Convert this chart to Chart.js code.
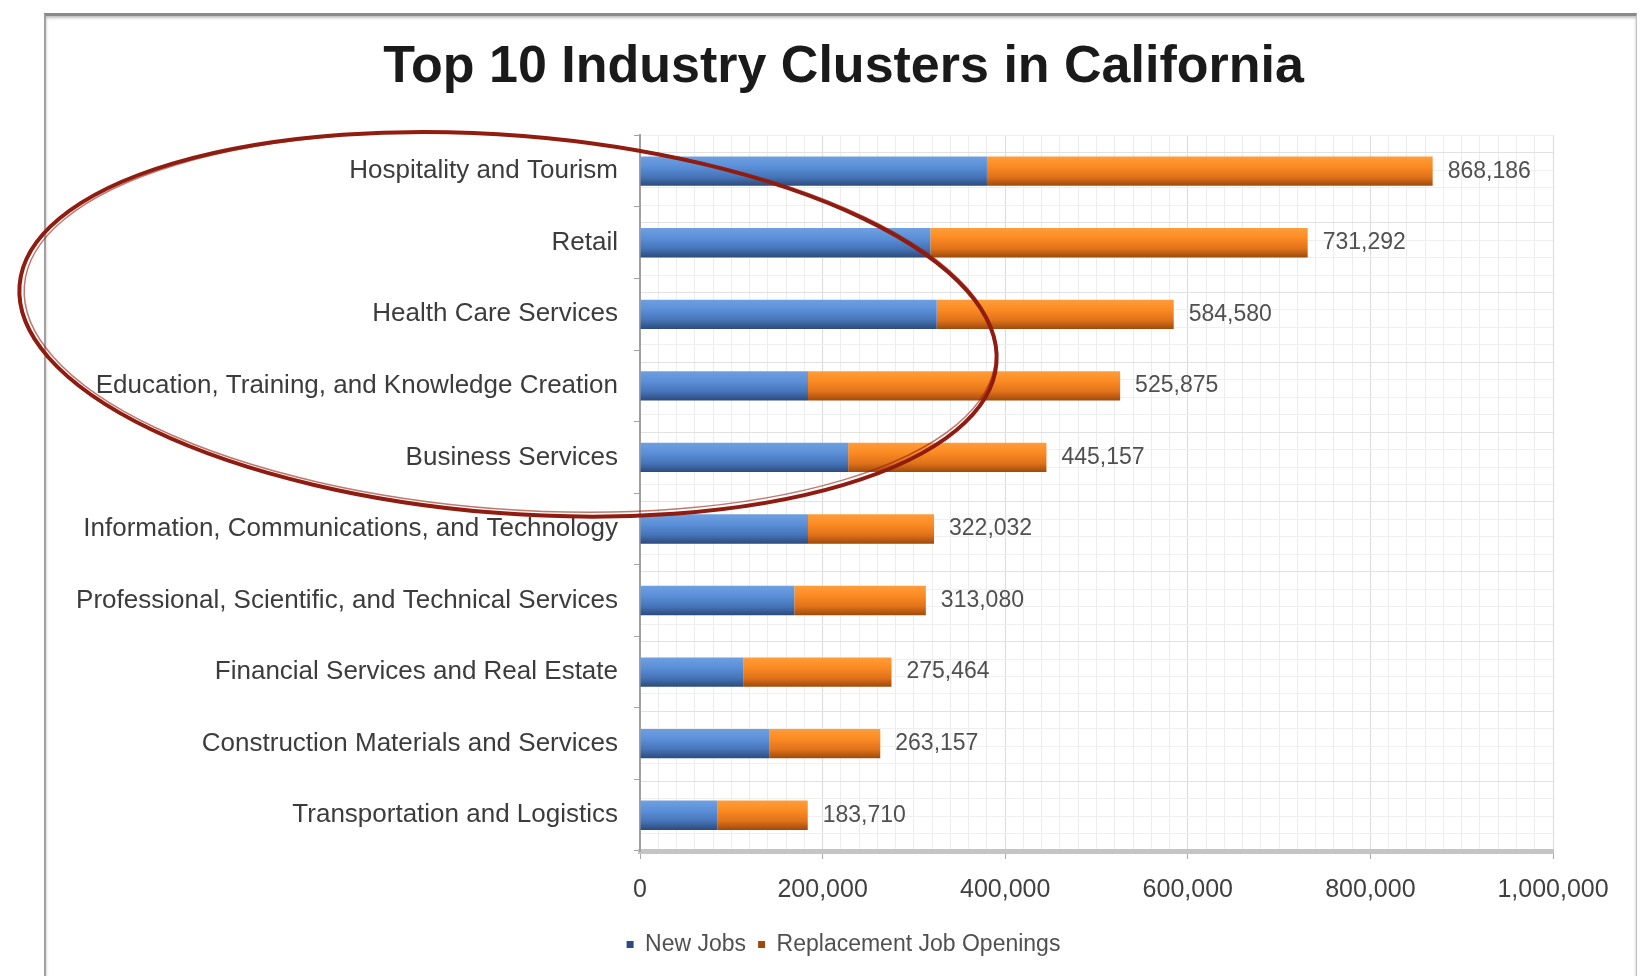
<!DOCTYPE html>
<html>
<head>
<meta charset="utf-8">
<script src="https://cdn.jsdelivr.net/npm/chart.js@4.4.1/dist/chart.umd.min.js"></script>
<style>
  html, body { margin: 0; padding: 0; background: #fff; width: 1650px; height: 976px; overflow: hidden; }
  #frame { position: absolute; left: 44px; top: 13px; width: 1590px; height: 1000px;
           border-left: 2px solid #a0a0a0; border-right: 1px solid #c0c0c0; border-top: 3px solid #8a8a8a;
           box-shadow: 0 2px 3px rgba(0,0,0,0.25) inset; }
  #wrap { position: absolute; left: 0; top: 0; width: 1650px; height: 976px; }
</style>
</head>
<body>
<div id="frame"></div>
<div id="wrap"><canvas id="c" width="1650" height="976"></canvas></div>
<script>
const categories = [
  "Hospitality and Tourism",
  "Retail",
  "Health Care Services",
  "Education, Training, and Knowledge Creation",
  "Business Services",
  "Information, Communications, and Technology",
  "Professional, Scientific, and Technical Services",
  "Financial Services and Real Estate",
  "Construction Materials and Services",
  "Transportation and Logistics"
];
const newJobs =      [380000, 318000, 325000, 184000, 228000, 184000, 169000, 113000, 142000, 85000];
const replacement =  [488186, 413292, 259580, 341875, 217157, 138032, 144080, 162464, 121157, 98710];
const xTicks = [0, 200000, 400000, 600000, 800000, 1000000];
const titleText = "Top 10 Industry Clusters in California";
const seriesNames = ["New Jobs", "Replacement Job Openings"];

const FONT = "'Liberation Sans', Arial, sans-serif";

function barGradient(ctx, stops, fallback) {
  const chart = ctx.chart;
  const y = chart.scales && chart.scales.y;
  if (!y || !chart.chartArea || ctx.dataIndex === undefined) return fallback;
  const c = y.getPixelForValue(ctx.dataIndex);
  const half = (y.height / categories.length) * 0.41 / 2;
  const g = chart.ctx.createLinearGradient(0, c - half, 0, c + half);
  stops.forEach(s => g.addColorStop(s[0], s[1]));
  return g;
}

// shift title & legend so they are centred on the chart frame rather than the padded canvas
const centreOnFrame = {
  id: 'centreOnFrame',
  afterLayout(chart) {
    const s = 67;
    [chart.titleBlock, chart.legend].forEach(b => { if (b) { b.left += s; b.right += s; } });
  }
};

const totalLabels = {
  id: 'totalLabels',
  afterDatasetsDraw(chart) {
    const { ctx, scales: { x, y } } = chart;
    ctx.save();
    ctx.font = "23px " + FONT;
    ctx.fillStyle = "#505050";
    ctx.textAlign = "left";
    ctx.textBaseline = "middle";
    categories.forEach((_, i) => {
      const total = newJobs[i] + replacement[i];
      ctx.fillText(total.toLocaleString('en-US'), x.getPixelForValue(total) + 15, y.getPixelForValue(i));
    });
    ctx.restore();
  }
};

const ellipse = {
  id: 'ellipse',
  afterDraw(chart) {
    const { ctx, chartArea, scales: { y } } = chart;
    const band = y.height / categories.length;
    const cx = chartArea.left - 132;
    const cy = (y.getPixelForValue(0) + y.getPixelForValue(4)) / 2 + 10;
    const rx = 490, ry = band * 2.64;
    ctx.save();
    ctx.strokeStyle = "#8f1c10";
    ctx.lineWidth = 4;
    ctx.beginPath();
    ctx.ellipse(cx, cy, rx, ry, 0.08, 0, Math.PI * 2);
    ctx.stroke();
    ctx.strokeStyle = "rgba(150,30,15,0.6)";
    ctx.lineWidth = 1.5;
    ctx.beginPath();
    ctx.ellipse(cx + 2, cy - 2, rx - 3, ry - 2, 0.075, 0, Math.PI * 2);
    ctx.stroke();
    ctx.restore();
  }
};

new Chart(document.getElementById('c'), {
  type: 'bar',
  data: {
    labels: categories,
    datasets: [
      {
        label: seriesNames[0],
        data: newJobs,
        backgroundColor: (ctx) => barGradient(ctx, [[0, '#6f9fe0'], [0.35, '#5a8fd8'], [0.7, '#4674b8'], [1, '#2c4b7a']], '#4f81bd'),
        borderWidth: 0,
        barPercentage: 0.41,
        categoryPercentage: 1
      },
      {
        label: seriesNames[1],
        data: replacement,
        backgroundColor: (ctx) => barGradient(ctx, [[0, '#ff9d3a'], [0.35, '#fb8a22'], [0.7, '#e0721a'], [1, '#9e4a0c']], '#f7861f'),
        borderWidth: 0,
        barPercentage: 0.41,
        categoryPercentage: 1
      }
    ]
  },
  options: {
    indexAxis: 'y',
    responsive: false,
    animation: false,
    layout: { padding: { left: 0, right: 97, top: 0, bottom: 10 } },
    scales: {
      x: {
        stacked: true,
        min: 0, max: 1000000,
        afterBuildTicks(scale) {
          const t = [];
          for (let v = 0; v <= 1000000; v += 20000) t.push({ value: v });
          scale.ticks = t;
        },
        afterFit(scale) { scale.height = 70; },
        border: { display: true, color: '#c4c4c4', width: 5 },
        grid: {
          color: (c) => (c.tick && xTicks.includes(c.tick.value)) ? '#dadada' : '#ececec',
          tickColor: (c) => (c.tick && xTicks.includes(c.tick.value)) ? '#a8a8a8' : 'rgba(0,0,0,0)',
          tickLength: 8,
          lineWidth: 1
        },
        ticks: {
          autoSkip: false,
          maxRotation: 0,
          padding: 16,
          color: '#404040',
          font: { family: FONT, size: 25 },
          callback: (v) => xTicks.includes(v) ? v.toLocaleString('en-US') : ''
        }
      },
      y: {
        stacked: true,
        afterFit(scale) { scale.width = 640; },
        border: { display: true, color: '#a0a0a0', width: 2 },
        grid: { drawOnChartArea: false, drawTicks: true, tickLength: 6, color: '#a0a0a0', offset: true },
        ticks: { padding: 16, color: '#3c3c3c', font: { family: FONT, size: 26 } }
      },
      yGrid: {
        type: 'linear',
        position: 'right',
        min: 0, max: 40,
        afterBuildTicks(scale) {
          const t = [];
          for (let v = 0; v <= 40; v++) t.push({ value: v });
          scale.ticks = t;
        },
        afterFit(scale) { scale.width = 0; },
        border: { display: false },
        grid: { drawTicks: false, color: (c) => (c.tick && c.tick.value % 4 === 0) ? '#e2e2e2' : '#efefef' },
        ticks: { display: false }
      }
    },
    plugins: {
      title: {
        display: true,
        text: titleText,
        color: '#1a1a1a',
        font: { family: FONT, size: 52, weight: 'bold' },
        padding: { top: 36, bottom: 37 }
      },
      legend: {
        position: 'bottom',
        align: 'center',
        labels: {
          boxWidth: 7, boxHeight: 7,
          color: '#505050',
          padding: 12,
          font: { family: FONT, size: 23 }
        }
      },
      tooltip: { enabled: false }
    }
  },
  plugins: [centreOnFrame, totalLabels, ellipse]
});
</script>
</body>
</html>
